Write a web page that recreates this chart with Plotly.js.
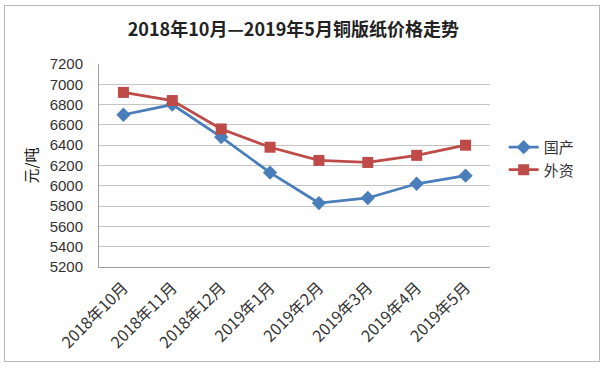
<!DOCTYPE html>
<html><head><meta charset="utf-8">
<script src="https://cdn.plot.ly/plotly-3.0.1.min.js"></script>
<style>
html,body{margin:0;padding:0;background:#fff;}
#wrap{position:relative;width:606px;height:368px;}
#chart{width:606px;height:368px;}
#frame{position:absolute;left:4px;top:5px;width:594px;height:355px;border:1px solid #b8b8b8;pointer-events:none;}
</style></head>
<body>
<div id="wrap"><div id="chart"></div><div id="frame"></div></div>
<script>
const categories = ["2018年10月","2018年11月","2018年12月","2019年1月","2019年2月","2019年3月","2019年4月","2019年5月"];
const domestic = [6700, 6800, 6480, 6130, 5830, 5880, 6020, 6100];
const foreign = [6920, 6840, 6560, 6380, 6250, 6230, 6300, 6400];
const seriesNames = ["国产", "外资"];
const font = "'Liberation Sans', 'Noto Sans CJK SC', sans-serif";
const cjk = "'Noto Sans CJK SC', sans-serif";

const traces = [
  {x: categories, y: domestic, name: seriesNames[0], type: "scatter", mode: "lines+markers",
   line: {color: "#4a7ebb", width: 2.8}, marker: {symbol: "diamond", size: 11, color: "#4a7ebb"}},
  {x: categories, y: foreign, name: seriesNames[1], type: "scatter", mode: "lines+markers",
   line: {color: "#be4b48", width: 2.8}, marker: {symbol: "square", size: 11, color: "#be4b48"}}
];

const layout = {
  width: 606, height: 368,
  margin: {l: 99, r: 116, t: 64, b: 101},
  paper_bgcolor: "#fff", plot_bgcolor: "#fff",
  font: {family: font, size: 13, color: "#333"},
  title: {text: "<b>2018年10月—2019年5月铜版纸价格走势</b>", x: 0.497, xref: "paper", y: 0.918, yanchor: "middle",
          font: {family: cjk, size: 18, color: "#222"}},
  xaxis: {type: "category", range: [-0.5, 7.5], showgrid: false, showline: true, linecolor: "#a0a0a0", linewidth: 1,
          ticks: "", tickangle: -45, ticklabelstandoff: 4, tickfont: {family: cjk, size: 16, color: "#333"}, fixedrange: true},
  yaxis: {range: [5200, 7200], dtick: 200, showgrid: true, gridcolor: "#c4c4c4", gridwidth: 1,
          showline: true, linecolor: "#a0a0a0", linewidth: 1, ticks: "", zeroline: false,
          ticklabelstandoff: 12, tickfont: {size: 15, color: "#333"},
          title: {text: "元/吨", font: {family: cjk, size: 15, color: "#111"}, standoff: 8}},
  legend: {x: 1.035, xanchor: "left", y: 0.535, yanchor: "middle", font: {family: cjk, size: 15, color: "#333"},
           bgcolor: "rgba(0,0,0,0)", tracegroupgap: 13, itemwidth: 30},
  showlegend: true
};
Plotly.newPlot("chart", traces, layout, {displayModeBar: false, staticPlot: true});
</script>
</body></html>
